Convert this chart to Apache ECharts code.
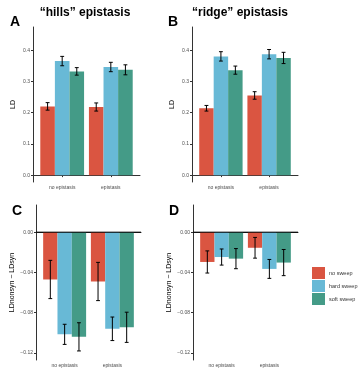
<!DOCTYPE html>
<html>
<head>
<meta charset="utf-8">
<script src="https://cdn.jsdelivr.net/npm/echarts@6/dist/echarts.min.js"></script>
<style>
html, body { margin: 0; padding: 0; background: #fff; }
#chart { width: 360px; height: 375px; }
</style>
</head>
<body>
<div id="chart"></div>
<script>
var groups = ['no epistasis', 'epistasis'];
var sweeps = ['no sweep', 'hard sweep', 'soft sweep'];
var colors = ['#DA5541', '#68B9D6', '#449B87'];

// values are [sweep][group]
var hillsLD = [[0.220, 0.218], [0.365, 0.346], [0.332, 0.337]];
var hillsLDErr = [[0.012, 0.013], [0.015, 0.015], [0.012, 0.016]];
var ridgeLD = [[0.214, 0.255], [0.380, 0.387], [0.336, 0.375]];
var ridgeLDErr = [[0.009, 0.012], [0.015, 0.015], [0.013, 0.018]];
var hillsDiff = [[-0.047, -0.049], [-0.1015, -0.096], [-0.104, -0.0945]];
var hillsDiffErr = [[0.019, 0.019], [0.010, 0.0117], [0.014, 0.015]];
var ridgeDiff = [[-0.0296, -0.0155], [-0.0247, -0.0365], [-0.0263, -0.0302]];
var ridgeDiffErr = [[0.011, 0.0103], [0.008, 0.0094], [0.010, 0.013]];

var ldTicks = [0, 0.1, 0.2, 0.3, 0.4];
var diffTicks = [0, -0.04, -0.08, -0.12];

var font = 'Liberation Sans, Arial, sans-serif';

var panels = [
    { vals: hillsLD, errs: hillsLDErr, grid: { left: 33, top: 27, width: 107, height: 155 }, ticks: ldTicks, min: -0.022, max: 0.474, digits: 1, name: 'LD', gap: 16, zero: false },
    { vals: ridgeLD, errs: ridgeLDErr, grid: { left: 192, top: 27, width: 106, height: 155 }, ticks: ldTicks, min: -0.022, max: 0.474, digits: 1, name: 'LD', gap: 16, zero: false },
    { vals: hillsDiff, errs: hillsDiffErr, grid: { left: 36, top: 205, width: 105, height: 155 }, ticks: diffTicks, min: -0.127, max: 0.027, digits: 2, name: 'LDnonsyn \u2212 LDsyn', gap: 20, zero: true },
    { vals: ridgeDiff, errs: ridgeDiffErr, grid: { left: 193, top: 205, width: 105, height: 155 }, ticks: diffTicks, min: -0.127, max: 0.027, digits: 2, name: 'LDnonsyn \u2212 LDsyn', gap: 20, zero: true }
];

function makeRender(s) {
    return function (params, api) {
        var x = api.value(0) + (s - 1) * 0.3;
        var v = api.value(1), e = api.value(2);
        var p0 = api.coord([x - 0.15, v]);
        var p1 = api.coord([x + 0.15, 0]);
        var top = api.coord([x, v + e]);
        var bot = api.coord([x, v - e]);
        var cl = api.coord([x - 0.04, v])[0];
        var cr = api.coord([x + 0.04, v])[0];
        var errStyle = { stroke: '#000', lineWidth: 1 };
        return {
            type: 'group',
            children: [
                { type: 'rect', shape: { x: p0[0], y: Math.min(p0[1], p1[1]), width: p1[0] - p0[0], height: Math.abs(p1[1] - p0[1]) }, style: { fill: colors[s] } },
                { type: 'line', shape: { x1: top[0], y1: top[1], x2: bot[0], y2: bot[1] }, style: errStyle },
                { type: 'line', shape: { x1: cl, y1: top[1], x2: cr, y2: top[1] }, style: errStyle },
                { type: 'line', shape: { x1: cl, y1: bot[1], x2: cr, y2: bot[1] }, style: errStyle }
            ]
        };
    };
}

var grids = [], xAxes = [], yAxes = [], series = [];
panels.forEach(function (p, i) {
    grids.push(p.grid);
    xAxes.push({
        type: 'value', gridIndex: i, min: 0.4, max: 2.6,
        splitLine: { show: false },
        axisLine: { lineStyle: { color: '#333', width: 1 } },
        axisTick: { customValues: [1, 2], length: 2, lineStyle: { color: '#333' } },
        axisLabel: {
            customValues: [1, 2], fontSize: 5, color: '#4d4d4d', fontFamily: font, margin: 3,
            formatter: function (v) { return groups[Math.round(v) - 1]; }
        }
    });
    yAxes.push({
        type: 'value', gridIndex: i, min: p.min, max: p.max,
        name: p.name, nameLocation: 'middle', nameGap: p.gap,
        nameTextStyle: { fontSize: 7, color: '#000', fontFamily: font },
        splitLine: { show: false },
        axisLine: { show: true, lineStyle: { color: '#333', width: 1 } },
        axisTick: { show: true, customValues: p.ticks, length: 2, lineStyle: { color: '#333' } },
        axisLabel: {
            customValues: p.ticks, fontSize: 5, color: '#4d4d4d', fontFamily: font, margin: 3,
            formatter: (function (d) {
                return function (v) { return v.toFixed(d).replace('-', '\u2212'); };
            })(p.digits)
        }
    });
    for (var s = 0; s < 3; s++) {
        series.push({
            type: 'custom', name: sweeps[s], xAxisIndex: i, yAxisIndex: i,
            itemStyle: { color: colors[s] },
            renderItem: makeRender(s),
            encode: { x: 0, y: 1 },
            data: groups.map(function (g, j) { return [j + 1, p.vals[s][j], p.errs[s][j]]; }),
            z: 2
        });
    }
    if (p.zero) {
        series.push({
            type: 'line', name: 'zero', xAxisIndex: i, yAxisIndex: i,
            data: [[0.4, 0], [2.6, 0]], symbol: 'none', silent: true,
            lineStyle: { color: '#000', width: 1 }, z: 3
        });
    }
});

function txt(x, y, t, size, align) {
    return {
        type: 'text', x: x, y: y,
        style: { text: t, font: 'bold ' + size + 'px ' + font, fill: '#000', textAlign: align, textVerticalAlign: 'middle' }
    };
}

var chart = echarts.init(document.getElementById('chart'), null, { renderer: 'canvas' });
chart.setOption({
    animation: false,
    grid: grids,
    xAxis: xAxes,
    yAxis: yAxes,
    series: series,
    legend: {
        data: sweeps, orient: 'vertical', left: 312, top: 267, padding: 0,
        itemWidth: 13, itemHeight: 12, itemGap: 1, icon: 'rect',
        textStyle: { fontSize: 5.5, color: '#333', fontFamily: font, padding: [0, 0, 0, -1] }
    },
    graphic: [
        txt(85, 13, '\u201chills\u201d epistasis', 12, 'center'),
        txt(240, 13, '\u201cridge\u201d epistasis', 12, 'center'),
        txt(15, 22, 'A', 14, 'center'),
        txt(173, 22, 'B', 14, 'center'),
        txt(17, 211, 'C', 14, 'center'),
        txt(174, 211, 'D', 14, 'center')
    ]
});
</script>
</body>
</html>
